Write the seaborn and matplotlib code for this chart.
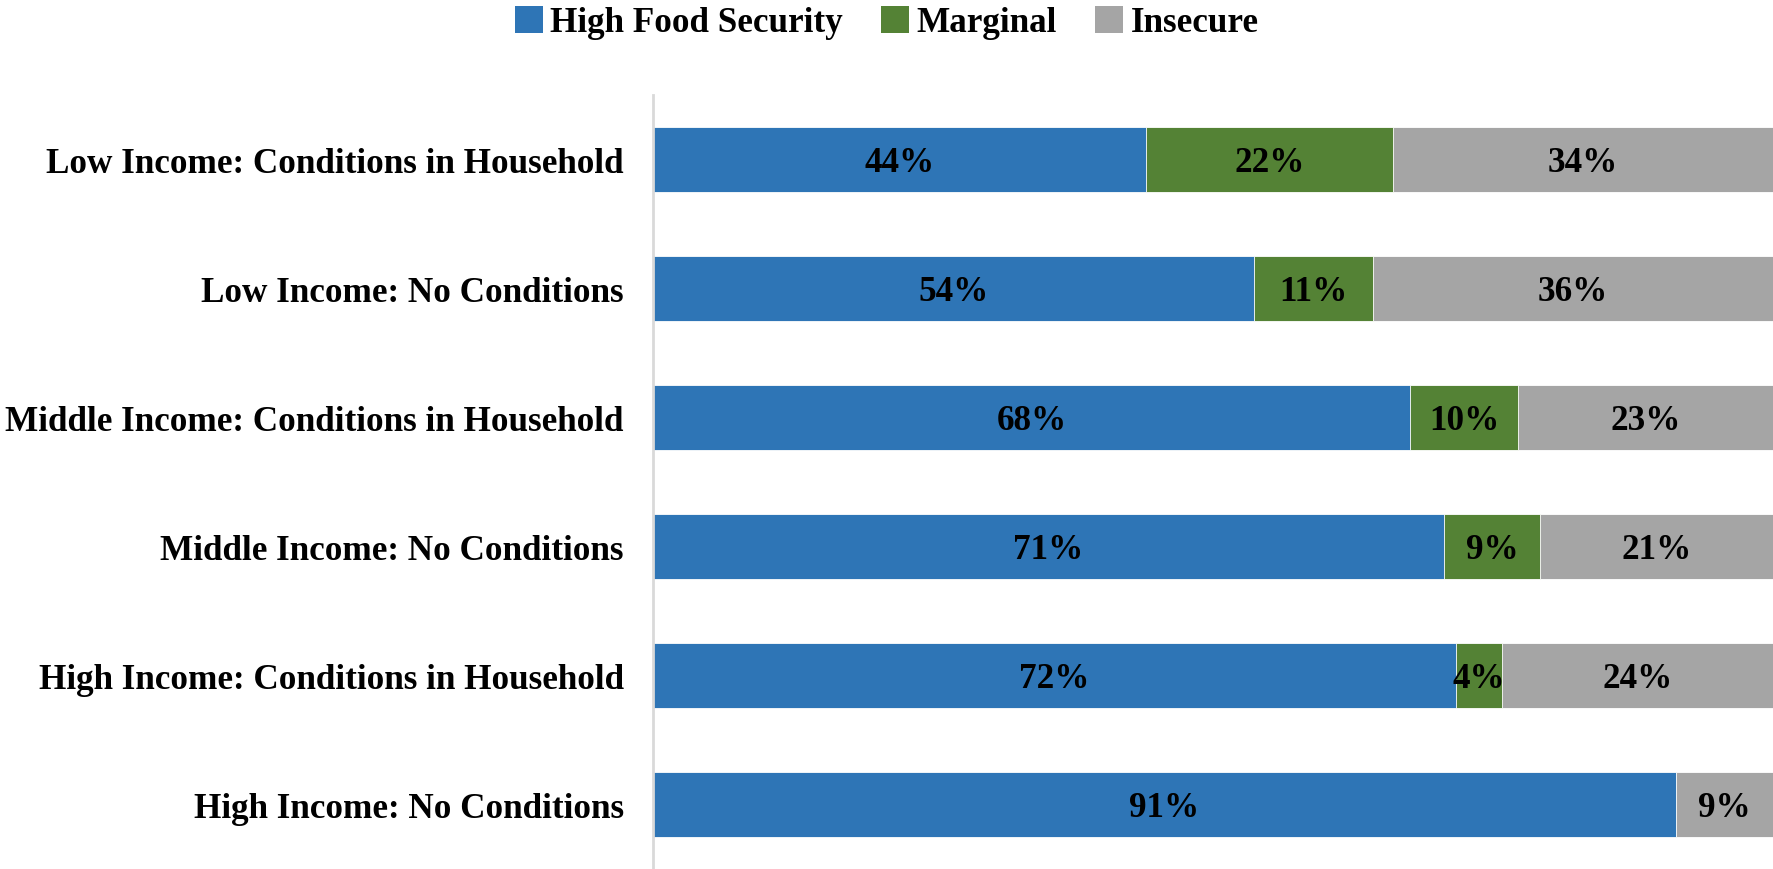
import matplotlib
matplotlib.use("Agg")
import matplotlib.pyplot as plt
import seaborn as sns
import pandas as pd
import numpy as np
from matplotlib.patches import Patch

categories = [
    "Low Income: Conditions in Household",
    "Low Income: No Conditions",
    "Middle Income: Conditions in Household",
    "Middle Income: No Conditions",
    "High Income: Conditions in Household",
    "High Income: No Conditions",
]
high_food_security = [44.0, 53.7, 67.6, 70.6, 71.7, 91.3]
marginal = [22.1, 10.6, 9.6, 8.6, 4.1, 0.0]
insecure = [33.9, 35.7, 22.8, 20.8, 24.2, 8.7]
series_names = ["High Food Security", "Marginal", "Insecure"]
colors = ["#2E75B6", "#548235", "#A5A5A5"]

sns.set_theme(style="white")
plt.rcParams["font.family"] = ["Liberation Serif", "DejaVu Serif"]
plt.rcParams["font.weight"] = "bold"
plt.rcParams["text.color"] = "black"
plt.rcParams["ytick.color"] = "black"
plt.rcParams["ytick.labelcolor"] = "black"

df = pd.DataFrame({
    "category": categories,
    "high": high_food_security,
    "marginal": marginal,
    "insecure": insecure,
})
df["cum_high"] = df["high"]
df["cum_marg"] = df["high"] + df["marginal"]
df["cum_all"] = df["cum_marg"] + df["insecure"]

fig = plt.figure(figsize=(17.73, 8.70), dpi=100)
ax = fig.add_axes([0.3683, 0.0, 0.6317, 0.8897])

bar_h = 0.51
sns.barplot(data=df, y="category", x="cum_all", color=colors[2], width=bar_h,
            orient="h", ax=ax, saturation=1, edgecolor="white", linewidth=0.6)
sns.barplot(data=df, y="category", x="cum_marg", color=colors[1], width=bar_h,
            orient="h", ax=ax, saturation=1, edgecolor="white", linewidth=0.6)
sns.barplot(data=df, y="category", x="cum_high", color=colors[0], width=bar_h,
            orient="h", ax=ax, saturation=1, edgecolor="white", linewidth=0.6)

fs = 25.3
for i, row in df.iterrows():
    starts = [0, row["cum_high"], row["cum_marg"]]
    vals = [row["high"], row["marginal"], row["insecure"]]
    for s, v in zip(starts, vals):
        if v > 0:
            ax.text(s + v / 2, i + 0.02, f"{round(v)}%", ha="center", va="center",
                    fontsize=fs, fontweight="bold", color="black")

ax.set_xlim(0, 100)
ax.set_ylim(5.5, -0.5)
ax.set_xlabel("")
ax.set_ylabel("")
ax.set_xticks([])
ax.tick_params(axis="y", length=0, pad=21, labelsize=fs, labelcolor="black")
for lab in ax.get_yticklabels():
    lab.set_fontweight("bold")
for sp in ["top", "right", "bottom"]:
    ax.spines[sp].set_visible(False)
ax.spines["left"].set_color("#D9D9D9")
ax.spines["left"].set_linewidth(2)

handles = [Patch(facecolor=c, edgecolor="none", label=n) for c, n in zip(colors, series_names)]
fig.legend(handles=handles, loc="center", bbox_to_anchor=(0.5, 0.973), ncol=3,
           frameon=False, prop={"size": fs, "weight": "bold"},
           handlelength=0.8, handleheight=0.8, handletextpad=0.2, columnspacing=1.1)

fig.savefig("out.png", dpi=100)
